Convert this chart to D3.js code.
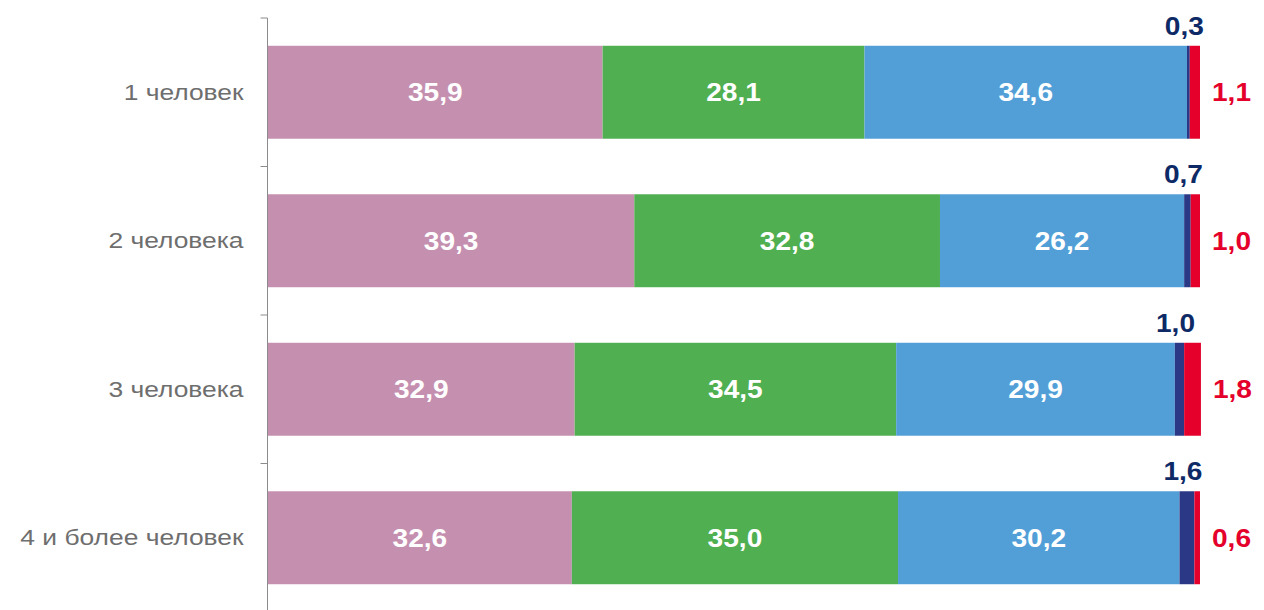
<!DOCTYPE html>
<html><head><meta charset="utf-8">
<script src="https://cdn.jsdelivr.net/npm/d3@7/dist/d3.min.js"></script>
<style>body{margin:0;background:#fff}svg{display:block}</style>
</head><body>
<svg id="c" width="1264" height="610"></svg>
<script>
const categories = ["1 человек", "2 человека", "3 человека", "4 и более человек"];
const seriesNames = ["s1", "s2", "s3", "s4", "s5"];
const s1 = [35.9, 39.3, 32.9, 32.6];
const s2 = [28.1, 32.8, 34.5, 35.0];
const s3 = [34.6, 26.2, 29.9, 30.2];
const s4 = [0.3, 0.7, 1.0, 1.6];
const s5 = [1.1, 1.0, 1.8, 0.6];
const colors = ["#C590B0", "#50AF50", "#529FD8", "#2B3885", "#E4002B"];
const labelColors = ["#fff", "#fff", "#fff", "#0E2A66", "#E4002B"];

const rows = categories.map((c, i) => ({cat: c, s1: s1[i], s2: s2[i], s3: s3[i], s4: s4[i], s5: s5[i]}));
const stack = d3.stack().keys(seriesNames)(rows);

const svg = d3.select("#c");
const mLeft = 267.5, mRight = 1200, mTop = 18, mBottom = 612;
const x = d3.scaleLinear().domain([0, 100]).range([mLeft + 0.5, mRight]);
const y = d3.scaleBand().domain(categories).range([mTop, mBottom]).paddingInner(0.374).paddingOuter(0.187);

const fmt = v => d3.format(".1f")(v).replace(".", ",");

const g = svg.append("g");
stack.forEach((layer, si) => {
  g.selectAll(null).data(layer).enter().append("rect")
    .attr("x", d => x(d[0]))
    .attr("y", d => y(d.data.cat))
    .attr("width", d => x(d[1]) - x(d[0]))
    .attr("height", y.bandwidth())
    .attr("fill", colors[si]);
});

const fontFam = "'Liberation Sans', Arial, sans-serif";
const numStretch = 1.08, catStretch = 1.2;
stack.forEach((layer, si) => {
  g.selectAll(null).data(layer).enter().append("text")
    .attr("transform", d => {
      let tx, ty;
      if (si < 3) { tx = (x(d[0]) + x(d[1])) / 2; ty = y(d.data.cat) + y.bandwidth() / 2; }
      else if (si === 3) { tx = (x(d[0]) + x(d[1])) / 2 - 4; ty = y(d.data.cat) - 11; }
      else { tx = x(d[1]) + 12; ty = y(d.data.cat) + y.bandwidth() / 2; }
      return `translate(${tx},${ty}) scale(${numStretch},1)`;
    })
    .attr("dy", si === 3 ? 0 : "0.35em")
    .attr("text-anchor", si < 4 ? "middle" : "start")
    .attr("font-family", fontFam)
    .attr("font-weight", "bold")
    .attr("font-size", 26)
    .attr("fill", labelColors[si])
    .text(d => fmt(d[1] - d[0]));
});

// category axis
const bandStep = y.step();
const ax = svg.append("g");
ax.append("line").attr("x1", mLeft).attr("x2", mLeft).attr("y1", mTop).attr("y2", 610)
  .attr("stroke", "#8c8c8c").attr("stroke-width", 1);
const tickYs = categories.map(c => y(c) - y.paddingInner() * bandStep / 2);
tickYs.forEach(t => {
  ax.append("line").attr("x1", mLeft - 7).attr("x2", mLeft).attr("y1", t).attr("y2", t)
    .attr("stroke", "#8c8c8c").attr("stroke-width", 1);
});
ax.selectAll(null).data(categories).enter().append("text")
  .attr("transform", d => `translate(${mLeft - 24},${y(d) + y.bandwidth() / 2}) scale(${catStretch},1)`)
  .attr("dy", "0.35em")
  .attr("text-anchor", "end")
  .attr("font-family", fontFam)
  .attr("font-size", 22)
  .attr("fill", "#6E6E6E")
  .text(d => d);
</script>
</body></html>
